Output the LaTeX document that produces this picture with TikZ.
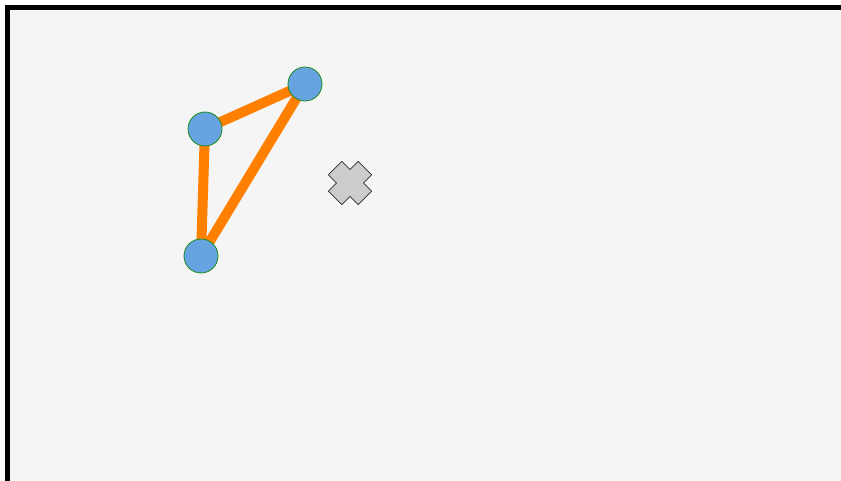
\documentclass[tikz,border=0pt]{standalone}
\usepackage{tikz}
\usetikzlibrary{calc}
\definecolor{PanelGray}{HTML}{F5F5F5}
\definecolor{VertexBlue}{HTML}{66A3E0}
\definecolor{VertexGreen}{HTML}{1A8C1A}
\definecolor{EdgeOrange}{HTML}{FF7F00}
\definecolor{MarkGray}{HTML}{CCCCCC}
\pgfdeclarelayer{panel}
\pgfdeclarelayer{edges}
\pgfsetlayers{panel,edges,main}

\begin{document}
\begin{tikzpicture}[x=1pt,y=-1pt,
  vertex/.style={circle,fill=VertexBlue,draw=VertexGreen,line width=0.8pt,minimum size=34pt,inner sep=0pt},
  edge/.style={EdgeOrange,line width=10pt}]
\useasboundingbox (0,0) rectangle (841,480);
\clip (0,0) rectangle (841,480);
\begin{pgfonlayer}{panel}
\draw[fill=PanelGray,line width=5pt] (7.5,7.5) rectangle (900,520);
\end{pgfonlayer}
% vertices
\node[vertex] (left) at (205,129) {};
\node[vertex] (top) at (305,84) {};
\node[vertex] (bottom) at (201,256) {};
% edges
\begin{pgfonlayer}{edges}
\draw[edge] (left.center)--(top.center);
\draw[edge] (top.center)--(bottom.center);
\draw[edge] (bottom.center)--(left.center);
\end{pgfonlayer}
% marker
\coordinate (mark) at (350,183);
\draw[fill=MarkGray,line width=0.6pt,line join=miter,shift={(mark)},rotate=45]
  (9.5,21)--(9.5,9.5)--(21,9.5)--(21,-9.5)--(9.5,-9.5)--(9.5,-21)
  --(-9.5,-21)--(-9.5,-9.5)--(-21,-9.5)--(-21,9.5)--(-9.5,9.5)--(-9.5,21)--cycle;
\end{tikzpicture}
\end{document}
